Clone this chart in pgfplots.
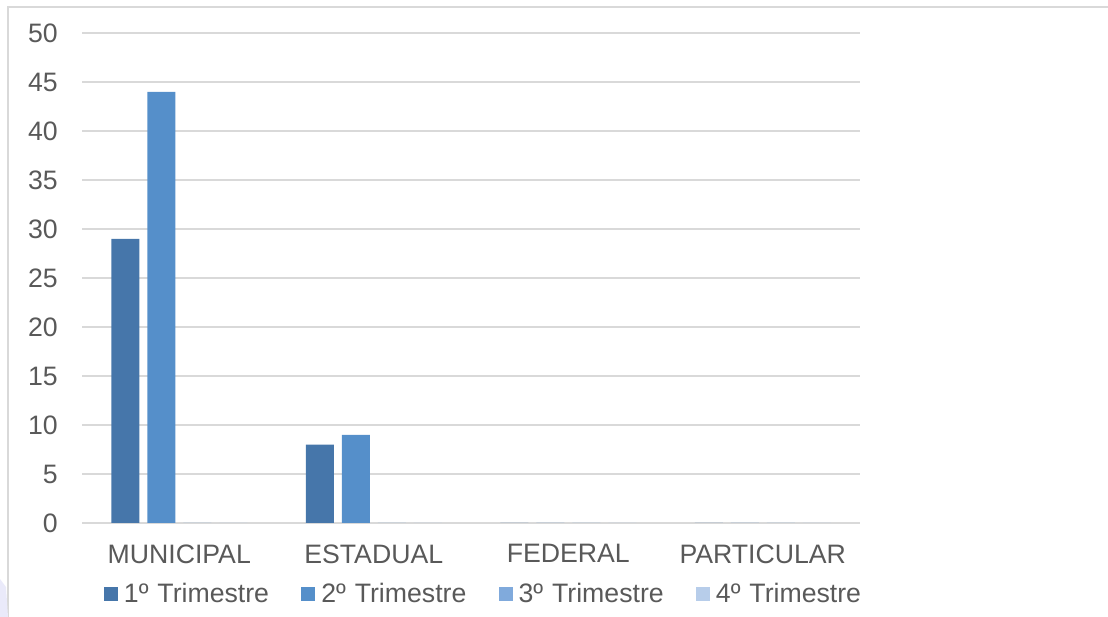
\documentclass[border=0pt]{standalone}
\usepackage{fontspec}
\setmainfont{Liberation Sans}
\usepackage{pgfplots}
\pgfplotsset{compat=1.18}

\definecolor{serA}{HTML}{4676AA}
\definecolor{serB}{HTML}{558FCA}
\definecolor{serC}{HTML}{80AADC}
\definecolor{serD}{HTML}{B7CDEA}
\definecolor{gridc}{HTML}{D9D9D9}
\definecolor{txt}{HTML}{595959}

\begin{document}
\begin{tikzpicture}[x=0.75pt,y=0.75pt]
% page size in px of the reference
\path[use as bounding box] (0,0) rectangle (1108,617);
% chart frame (top and left edge visible)
\draw[gridc, line width=1.5pt] (8,-5) -- (8,610) -- (1120,610);
\fill[gridc!70!blue!20] (0,0) -- (0,38) -- (6,30) -- (8,0) -- cycle;

\begin{axis}[
  at={(61.5pt,70.5pt)}, anchor=south west,
  scale only axis,
  width=583.5pt, height=367.5pt,
  ybar=6pt, bar width=21pt,
  xmin=-0.5, xmax=3.5,
  ymin=0, ymax=50,
  ytick distance=5,
  xtick={0,1,2,3},
  xticklabels={MUNICIPAL,ESTADUAL,FEDERAL,PARTICULAR},
  axis line style={draw=none},
  major tick length=0pt,
  ymajorgrids,
  grid style={gridc, line width=1pt},
  font=\fontsize{20}{24}\selectfont,
  tick label style={txt},
  yticklabel style={anchor=east, inner sep=0pt, xshift=-18pt},
  xticklabel style={anchor=north, inner sep=0pt, yshift=-16pt},
  /pgf/number format/assume math mode=true,
  legend columns=4,
  legend style={draw=none, fill=none, inner sep=0pt, outer sep=0pt,
    at={(0,0)}, anchor=west, xshift=16.5pt, yshift=-53pt,
    font=\fontsize{20}{24}\selectfont, text=txt,
    nodes={inner sep=0pt, text width=133pt, align=left},
    /tikz/every odd column/.append style={column sep=4.5pt}},
  legend image code/.code={\fill[#1] (0pt,-5.25pt) rectangle (10.5pt,5.25pt);},
]
\addplot[draw=none, fill=serA] coordinates {(0,29) (1,8) (2,0) (3,0)};
\addplot[draw=none, fill=serB] coordinates {(0,44) (1,9) (2,0) (3,0)};
\addplot[draw=none, fill=serC] coordinates {(0,0) (1,0) (2,0) (3,0)};
\addplot[draw=none, fill=serD] coordinates {(0,0) (1,0) (2,0) (3,0)};
\legend{1º Trimestre, 2º Trimestre, 3º Trimestre, 4º Trimestre}
\end{axis}
\end{tikzpicture}
\end{document}
